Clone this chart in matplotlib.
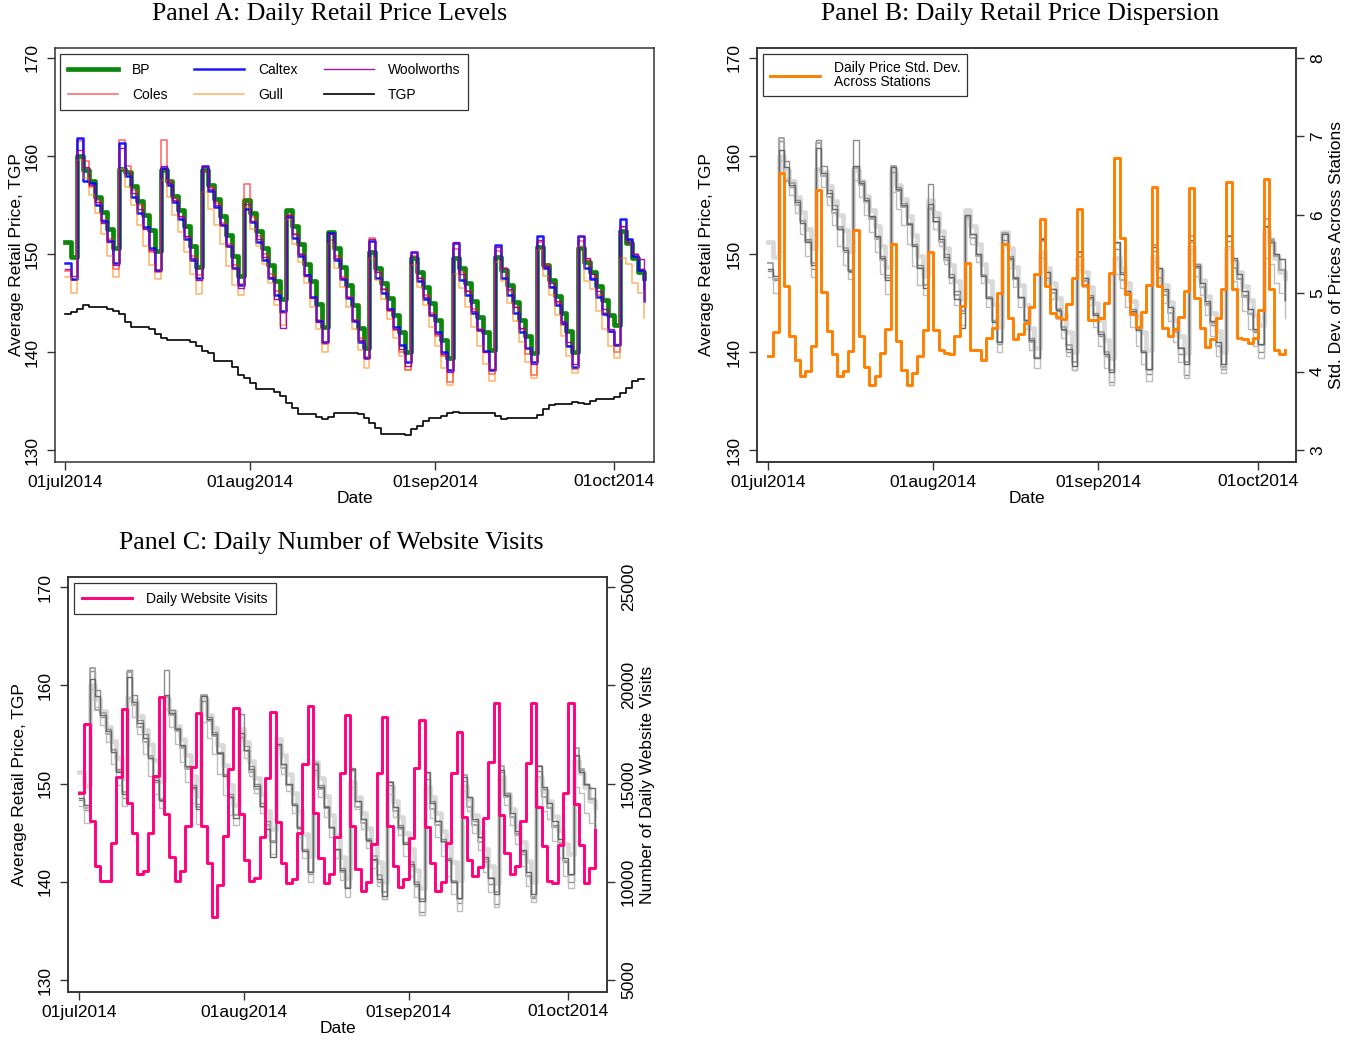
import matplotlib
matplotlib.use('Agg')
import matplotlib.pyplot as plt
import matplotlib.dates as mdates
import pandas as pd

# ---------------- data ----------------
dates = pd.date_range('2014-07-01', '2014-10-06', freq='D')

bp = [151.2, 149.7,
      160.0, 158.6, 157.4, 155.8, 154.3, 152.6, 150.6,
      158.7, 158.4, 156.9, 155.4, 154.0, 152.4, 150.3,
      158.6, 157.4, 155.9, 154.5, 152.9, 150.8, 148.7,
      158.6, 157.0, 155.6, 153.9, 151.9, 149.8, 147.8,
      155.5, 154.2, 152.3, 150.6, 148.9, 147.2, 145.4,
      154.5, 152.9, 151.0, 149.0, 147.2, 144.9, 142.6,
      152.2, 150.6, 148.7, 146.8, 144.8, 142.5, 140.4,
      150.2, 148.6, 147.0, 145.5, 143.8, 142.0, 140.0,
      149.6, 148.2, 146.6, 145.0, 143.3, 141.2, 139.4,
      149.6, 148.6, 147.0, 145.2, 143.6, 142.0, 140.2,
      149.7, 148.4, 146.8, 145.1, 143.3, 141.6, 139.9,
      150.7, 148.9, 147.4, 145.7, 144.0, 142.1, 140.0,
      150.6, 149.2, 148.2, 146.7, 145.3, 143.8, 142.8,
      152.3, 151.1, 149.6, 148.2, 147.6]

caltex = [149.1, 147.5,
          161.8, 157.5, 157.2, 155.0, 153.4, 151.3, 149.1,
          161.3, 158.0, 155.8, 154.2, 152.8, 150.6, 148.4,
          158.8, 157.0, 155.3, 153.6, 151.5, 149.4, 147.6,
          159.0, 156.4, 154.8, 153.0, 150.8, 148.6, 146.8,
          154.6, 153.3, 151.2, 149.4, 147.6, 145.8, 144.2,
          153.8, 151.6, 149.8, 147.9, 145.6, 143.2, 141.0,
          152.1, 149.4, 147.5, 145.5, 143.2, 141.0, 139.4,
          151.3, 147.6, 146.0, 144.4, 142.6, 140.7, 139.0,
          150.2, 147.2, 145.4, 143.8, 142.0, 140.0, 138.2,
          151.1, 147.4, 145.8, 144.0, 142.2, 140.1, 138.2,
          150.9, 147.6, 145.8, 144.0, 142.0, 140.4, 139.0,
          151.8, 148.6, 146.6, 144.8, 143.0, 140.6, 138.5,
          151.8, 148.6, 147.5, 145.6, 143.9, 142.1, 140.7,
          153.6, 151.5, 149.8, 148.4, 145.2]

coles = [148.3, 147.3,
         161.5, 159.5, 156.8, 155.5, 153.5, 151.5, 148.5,
         161.6, 159.0, 156.5, 155.0, 152.6, 150.2, 148.2,
         161.6, 157.5, 155.7, 153.8, 151.7, 149.8, 147.9,
         158.4, 156.8, 155.2, 153.2, 151.0, 148.9, 146.9,
         157.1, 153.8, 151.8, 150.0, 148.0, 146.2, 144.0,
         154.0, 152.0, 150.0, 147.9, 145.5, 143.3, 140.8,
         151.4, 149.8, 147.7, 145.6, 143.3, 141.4, 139.5,
         151.6, 148.2, 146.4, 144.2, 142.2, 140.0, 138.2,
         149.8, 147.6, 145.8, 144.0, 141.6, 139.6, 136.9,
         150.5, 148.2, 146.2, 144.4, 142.4, 140.0, 137.8,
         150.3, 148.6, 146.2, 144.6, 142.3, 139.8, 137.7,
         151.2, 149.0, 146.6, 145.0, 142.8, 140.6, 138.3,
         151.3, 149.4, 147.6, 145.8, 144.0, 142.0, 140.0,
         152.8, 151.4, 150.0, 148.5, 146.5]

woolworths = [148.5, 147.8,
              160.6, 158.9, 157.0, 155.3, 153.2, 151.2, 148.9,
              160.8, 158.3, 156.2, 154.6, 152.6, 150.4, 148.3,
              159.0, 157.2, 155.5, 153.9, 151.8, 149.6, 147.4,
              158.9, 156.6, 155.0, 153.1, 150.8, 148.6, 146.5,
              155.1, 153.4, 151.5, 149.7, 147.7, 145.4, 142.5,
              154.0, 152.0, 150.0, 147.8, 145.5, 143.1, 141.0,
              152.0, 149.6, 147.6, 145.6, 143.3, 141.2, 139.4,
              151.5, 148.2, 146.4, 144.3, 142.3, 140.3, 138.6,
              150.2, 147.6, 145.6, 143.8, 141.8, 139.8, 138.0,
              151.2, 148.0, 146.2, 144.2, 142.2, 140.0, 138.3,
              150.7, 148.6, 146.4, 144.6, 142.5, 140.4, 138.8,
              151.4, 148.8, 147.0, 145.2, 143.2, 141.0, 138.8,
              151.8, 149.6, 148.0, 146.2, 144.4, 142.4, 140.8,
              152.9, 151.2, 150.0, 149.5, 145.3]

gull = [147.7, 146.0,
        159.6, 157.8, 156.0, 154.2, 152.0, 149.8, 147.7,
        158.7, 156.8, 155.0, 153.0, 150.8, 148.9, 147.5,
        157.6, 155.8, 154.0, 152.2, 150.2, 148.0, 145.9,
        156.3, 154.6, 153.0, 151.0, 148.8, 146.8, 145.8,
        154.8, 152.6, 150.8, 149.0, 147.0, 144.8, 142.8,
        153.6, 151.0, 149.2, 147.0, 144.6, 142.4, 140.0,
        151.0, 148.6, 146.6, 144.6, 142.4, 140.2, 138.4,
        149.6, 147.4, 145.4, 143.4, 141.4, 139.6, 138.2,
        148.9, 146.6, 144.8, 142.6, 140.6, 138.4, 136.6,
        148.0, 146.5, 144.6, 142.6, 140.6, 138.8, 137.0,
        149.2, 147.2, 145.0, 143.2, 141.0, 139.0, 137.4,
        150.4, 147.8, 145.8, 143.8, 141.6, 139.6, 137.9,
        150.8, 147.2, 146.4, 144.2, 142.4, 140.6, 139.4,
        149.6, 149.0, 147.0, 146.0, 143.5]

tgp = [143.90, 144.10, 144.35, 144.76, 144.63, 144.63, 144.63, 144.35, 144.18, 143.88,
       143.03, 142.58, 142.58, 142.58, 142.31, 141.84, 141.39, 141.22, 141.22, 141.22,
       141.22, 141.05, 140.61, 140.14, 139.86, 139.12, 139.12, 139.12, 138.50, 137.65,
       137.31, 136.87, 136.26, 136.26, 136.26, 135.95, 135.51, 134.83, 134.25, 133.67,
       133.67, 133.67, 133.33, 133.20, 133.40, 133.81, 133.81, 133.81, 133.81, 133.67,
       133.23, 132.72, 132.28, 131.63, 131.63, 131.63, 131.63, 131.55, 132.11, 132.45,
       132.96, 133.30, 133.30, 133.47, 133.74, 133.88, 133.74, 133.74, 133.74, 133.74,
       133.74, 133.74, 133.47, 133.20, 133.30, 133.30, 133.30, 133.30, 133.30, 133.56,
       134.22, 134.59, 134.69, 134.69, 134.69, 134.93, 134.80, 134.69, 134.97, 135.17,
       135.17, 135.17, 135.37, 135.85, 136.29, 137.07, 137.21, 137.21]

price_sd = [4.20, 4.50, 6.53, 5.09, 4.45, 4.15, 3.95, 4.01, 4.33, 6.32,
            5.01, 4.52, 4.22, 3.94, 4.01, 4.26, 5.80, 4.45, 4.06, 3.83,
            3.94, 4.24, 4.54, 5.63, 4.39, 4.02, 3.83, 3.98, 4.20, 4.53,
            5.52, 4.53, 4.28, 4.24, 4.22, 4.45, 4.84, 5.38, 4.28, 4.28,
            4.15, 4.43, 4.56, 5.00, 5.63, 4.69, 4.41, 4.48, 4.62, 4.83,
            5.25, 5.95, 5.09, 4.75, 4.70, 4.67, 4.86, 5.20, 6.07, 5.11,
            4.66, 4.66, 4.68, 4.88, 5.26, 6.72, 5.70, 4.99, 4.73, 4.57,
            4.76, 5.10, 6.35, 5.09, 4.56, 4.45, 4.54, 4.70, 5.03, 6.34,
            4.94, 4.56, 4.32, 4.42, 4.68, 5.06, 6.42, 5.06, 4.43, 4.41,
            4.37, 4.43, 4.79, 6.46, 5.06, 4.28, 4.22, 4.27]

visits = [14530, 18030, 13090, 10800, 10040, 10040, 11960, 15310, 18790, 14020,
          12500, 10380, 10560, 12460, 15380, 19390, 13450, 11280, 10060, 10560,
          12850, 15860, 18600, 12850, 10940, 8220, 9840, 12350, 15720, 18820,
          13450, 11110, 10060, 10180, 12260, 15260, 18660, 13060, 10970, 9920,
          10120, 12500, 15990, 18940, 13480, 11190, 9950, 10400, 12290, 15550,
          18490, 12850, 10650, 9540, 10010, 11920, 15550, 18400, 12850, 10820,
          9750, 10120, 12210, 15770, 18230, 12800, 10970, 9540, 10010, 11960,
          15520, 17640, 13310, 11110, 10310, 10770, 13260, 16110, 19110, 13400,
          11450, 10400, 10800, 13110, 16060, 19110, 13820, 11820, 10040, 9950,
          11870, 14530, 19110, 13960, 11870, 9950, 10680, 12630]

price_ticks = [130, 140, 150, 160, 170]
sd_ticks = [3, 4, 5, 6, 7, 8]
visit_ticks = [5000, 10000, 15000, 20000, 25000]
date_ticks = ['2014-07-01', '2014-08-01', '2014-09-01', '2014-10-01']
date_labels = ['01jul2014', '01aug2014', '01sep2014', '01oct2014']

# ---------------- style ----------------
SANS = ['Liberation Sans', 'DejaVu Sans']
SERIF = ['Liberation Serif', 'DejaVu Serif']
plt.rcParams['font.family'] = SANS
TICK_FS = 12.5
LAB_FS = 12.5
LEG_FS = 10
TITLE_FS = 18.6
SPINE_C = '#333333'

fig = plt.figure(figsize=(13.52, 10.4), dpi=100)
W, H = 1352.0, 1040.0


def make_ax(l, r, t, b):
    return fig.add_axes([l / W, 1 - b / H, (r - l) / W, (b - t) / H])


YLIM = (128.78, 171.02)
d0 = mdates.date2num(pd.Timestamp('2014-07-01'))


def style_ax(ax, xl, xr, ylabelpad):
    ax.set_xlim(d0 + xl, d0 + xr)
    ax.set_ylim(*YLIM)
    ax.set_xticks([mdates.date2num(pd.Timestamp(d)) for d in date_ticks])
    ax.set_xticklabels(date_labels, fontsize=TICK_FS)
    ax.set_yticks(price_ticks)
    ax.set_yticklabels([str(v) for v in price_ticks], fontsize=TICK_FS,
                       rotation=90, va='center')
    ax.tick_params(direction='out', length=6, width=1, color=SPINE_C, pad=3)
    ax.tick_params(axis='y', pad=5)
    for s in ax.spines.values():
        s.set_color(SPINE_C)
        s.set_linewidth(1.1)
    ax.set_xlabel('Date', fontsize=LAB_FS, labelpad=1)
    ax.set_ylabel('Average Retail Price, TGP', fontsize=LAB_FS, labelpad=ylabelpad)


def legend_kw():
    return dict(fontsize=LEG_FS, frameon=True, fancybox=False, edgecolor='black',
                handlelength=3.6, handletextpad=1.0, borderaxespad=0)


# ---------------- Panel A ----------------
axA = make_ax(55, 654, 48, 462)
lA = []
lA.append(axA.plot(dates, bp, drawstyle='steps-post', color='#008000', lw=3.4, alpha=0.95, label='BP')[0])
lA.append(axA.plot(dates, coles, drawstyle='steps-post', color='#ff2020', lw=1.1, alpha=0.7, label='Coles')[0])
lA.append(axA.plot(dates, caltex, drawstyle='steps-post', color='#0000ff', lw=1.8, alpha=0.9, label='Caltex')[0])
lA.append(axA.plot(dates, gull, drawstyle='steps-post', color='#ff8000', lw=1.1, alpha=0.6, label='Gull')[0])
lA.append(axA.plot(dates, woolworths, drawstyle='steps-post', color='#990099', lw=1.0, alpha=0.9, label='Woolworths')[0])
lA.append(axA.plot(dates, tgp, drawstyle='steps-post', color='black', lw=1.2, label='TGP')[0])
style_ax(axA, -1.68, 98.66, ylabelpad=0.5)
legA = axA.legend(handles=lA, ncol=3, loc='upper left', bbox_to_anchor=(0.008, 0.985),
                  columnspacing=1.9, borderpad=0.6, labelspacing=0.8, **legend_kw())
legA.get_frame().set_linewidth(0.9)

fig.text(330 / W, 1 - 14 / H, 'Panel A: Daily Retail Price Levels', family=SERIF,
         fontsize=TITLE_FS, ha='center', va='center')

# ---------------- gray price background helper ----------------

def gray_prices(ax):
    ax.plot(dates, bp, drawstyle='steps-post', color='#d9d9d9', lw=3.4)
    ax.plot(dates, coles, drawstyle='steps-post', color='#8c8c8c', lw=1.0)
    ax.plot(dates, caltex, drawstyle='steps-post', color='#a6a6a6', lw=1.4)
    ax.plot(dates, gull, drawstyle='steps-post', color='#bdbdbd', lw=1.0)
    ax.plot(dates, woolworths, drawstyle='steps-post', color='#666666', lw=1.0)


def style_right(ax2, ticks, label):
    ax2.set_yticks(ticks)
    ax2.set_yticklabels([str(v) for v in ticks], fontsize=TICK_FS, rotation=90, va='center')
    ax2.tick_params(direction='out', length=6, width=1, color=SPINE_C, pad=4)
    ax2.set_ylabel(label, fontsize=LAB_FS, labelpad=3)
    for s in ax2.spines.values():
        s.set_color(SPINE_C)
        s.set_linewidth(1.1)


# ---------------- Panel B ----------------
axB = make_ax(757, 1296, 48, 462)
gray_prices(axB)
style_ax(axB, -2.07, 99.1, ylabelpad=9)
axB2 = axB.twinx()
axB2.set_ylim(3 + (YLIM[0] - 130) / 8.0, 3 + (YLIM[1] - 130) / 8.0)
lB = axB2.plot(dates, price_sd, drawstyle='steps-post', color='#ff8000', lw=2.1,
               label='Daily Price Std. Dev.\nAcross Stations')[0]
style_right(axB2, sd_ticks, 'Std. Dev. of Prices Across Stations')
legB = axB2.legend(handles=[lB], loc='upper left', bbox_to_anchor=(0.011, 0.985),
                   borderpad=0.5, **legend_kw())
legB.get_frame().set_linewidth(0.9)
for t in legB.get_texts():
    t.set_linespacing(0.95)

fig.text(1020 / W, 1 - 14 / H, 'Panel B: Daily Retail Price Dispersion', family=SERIF,
         fontsize=TITLE_FS, ha='center', va='center')

# ---------------- Panel C ----------------
axC = make_ax(68, 607, 577, 992)
gray_prices(axC)
style_ax(axC, -2.07, 99.3, ylabelpad=8)
axC2 = axC.twinx()
axC2.set_ylim(5000 + (YLIM[0] - 130) * 500, 5000 + (YLIM[1] - 130) * 500)
lC = axC2.plot(dates, visits, drawstyle='steps-post', color='#ff007f', lw=2.1,
               label='Daily Website Visits')[0]
style_right(axC2, visit_ticks, 'Number of Daily Website Visits')
legC = axC2.legend(handles=[lC], loc='upper left', bbox_to_anchor=(0.011, 0.985),
                   borderpad=0.6, **legend_kw())
legC.get_frame().set_linewidth(0.9)

fig.text(331 / W, 1 - 543 / H, 'Panel C: Daily Number of Website Visits', family=SERIF,
         fontsize=TITLE_FS, ha='center', va='center')

fig.savefig('out.png', dpi=100)
